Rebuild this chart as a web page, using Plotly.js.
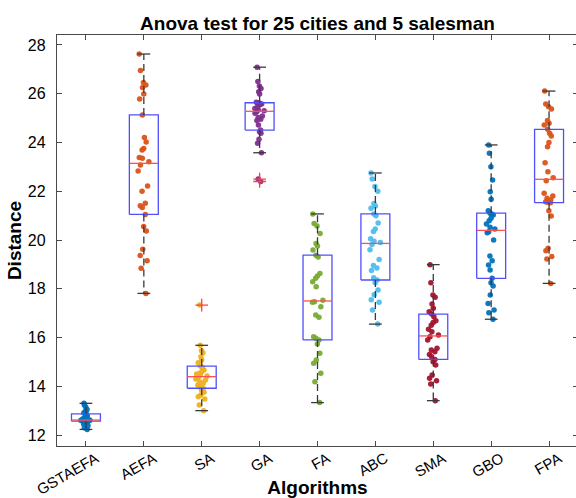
<!DOCTYPE html>
<html>
<head>
<meta charset="utf-8">
<script src="https://cdn.plot.ly/plotly-3.0.1.min.js"></script>
<style>
  html, body { margin: 0; padding: 0; overflow: hidden; background: #fff; }
  #chart { width: 580px; height: 498px; }
</style>
</head>
<body>
<div id="chart"></div>
<script>
// Best distance found in each of 30 runs, per algorithm
const categories = ['GSTAEFA', 'AEFA', 'SA', 'GA', 'FA', 'ABC', 'SMA', 'GBO', 'FPA'];

const gstaefa = [12.23, 12.3, 12.38, 12.45, 12.5, 12.53, 12.55, 12.57, 12.58, 12.59, 12.6, 12.6, 12.6, 12.61, 12.61,
                 12.62, 12.64, 12.67, 12.7, 12.74, 12.78, 12.83, 12.87, 12.9, 12.93, 12.98, 13.05, 13.15, 13.22, 13.3];
const aefa = [27.63, 26.95, 26.46, 26.36, 26.26, 25.99, 25.78, 25.13, 24.21, 24.02, 23.75, 23.69, 23.38, 23.35, 23.21,
              23.08, 22.83, 22.22, 22.0, 21.51, 21.41, 21.33, 21.05, 20.55, 20.37, 19.62, 19.36, 19.15, 18.84, 17.81];
const sa = [17.33, 15.68, 15.46, 15.38, 15.21, 15.08, 14.97, 14.83, 14.78, 14.67, 14.6, 14.53, 14.5, 14.46, 14.42,
            14.37, 14.3, 14.26, 14.19, 14.12, 14.05, 13.98, 13.92, 13.85, 13.76, 13.64, 13.57, 13.48, 13.23, 13.0];
const ga = [27.09, 26.5, 26.32, 26.22, 26.08, 25.99, 25.65, 25.6, 25.58, 25.63, 25.54, 25.47, 25.4, 25.33, 25.3,
            25.26, 25.2, 25.09, 25.03, 24.95, 24.9, 24.72, 24.51, 24.44, 24.38, 24.13, 23.97, 23.58, 22.5, 22.4];
const fa = [21.07, 20.68, 20.57, 20.27, 19.86, 19.75, 19.59, 19.38, 19.3, 18.63, 18.52, 18.43, 18.29, 18.08, 17.53,
            17.45, 17.47, 17.26, 16.92, 16.83, 16.03, 15.97, 15.9, 15.73, 15.35, 15.08, 14.94, 14.53, 14.19, 13.33];
const abc = [22.75, 22.5, 22.2, 22.0, 21.5, 21.4, 21.3, 21.07, 21.0, 20.7, 20.45, 20.35, 20.05, 19.95, 19.9,
             19.82, 19.6, 19.2, 18.95, 18.85, 18.75, 18.45, 18.36, 18.25, 17.95, 17.75, 17.55, 17.45, 17.13, 16.55];
const sma = [18.99, 18.25, 17.74, 17.65, 17.37, 17.2, 17.06, 16.96, 16.85, 16.69, 16.62, 16.5, 16.34, 16.24, 16.1,
             16.03, 15.9, 15.56, 15.49, 15.42, 15.3, 15.21, 15.1, 15.01, 14.87, 14.46, 14.33, 14.23, 14.09, 13.41];
const gbo = [23.9, 23.56, 23.01, 22.46, 21.98, 21.67, 21.2, 21.1, 21.07, 21.03, 20.89, 20.79, 20.66, 20.52, 20.45,
             20.34, 20.3, 20.0, 19.34, 19.15, 18.97, 18.77, 18.43, 18.25, 18.11, 17.74, 17.4, 17.13, 17.02, 16.75];
const fpa = [26.11, 25.58, 25.47, 25.37, 24.9, 24.79, 24.72, 24.54, 24.38, 24.27, 24.0, 23.83, 23.17, 22.8, 22.55,
             22.43, 21.92, 21.81, 21.71, 21.64, 21.57, 21.55, 21.53, 21.2, 20.98, 19.66, 19.56, 19.32, 19.22, 18.22];

const yTicks = [12, 14, 16, 18, 20, 22, 24, 26, 28];

const runs = [gstaefa, aefa, sa, ga, fa, abc, sma, gbo, fpa];
const dotColors = ['#0072BD', '#D95319', '#EDB120', '#7E2F8E', '#77AC30', '#4DBEEE', '#A2142F', '#0072BD', '#D95319'];

const FONT = 'Liberation Sans, Arial, Helvetica, sans-serif';
const BOX_HALF = 0.25;
const CAP_HALF = 0.11;

// Percentile with the same interpolation rule as MATLAB's prctile
function prctile(sorted, p) {
  const n = sorted.length;
  const pos = n * p / 100 + 0.5;
  if (pos <= 1) return sorted[0];
  if (pos >= n) return sorted[n - 1];
  const lo = Math.floor(pos);
  const f = pos - lo;
  return sorted[lo - 1] + f * (sorted[lo] - sorted[lo - 1]);
}

function boxStats(values) {
  const s = values.slice().sort((a, b) => a - b);
  const q1 = prctile(s, 25), med = prctile(s, 50), q3 = prctile(s, 75);
  const iqr = q3 - q1;
  const hiLim = q3 + 1.5 * iqr, loLim = q1 - 1.5 * iqr;
  const inside = s.filter(v => v >= loLim && v <= hiLim);
  return {
    q1, med, q3,
    lo: inside[0], hi: inside[inside.length - 1],
    out: s.filter(v => v < loLim || v > hiLim)
  };
}

const frames = [], medians = [], whiskers = [], caps = [], outliers = [], dots = [];

runs.forEach((vals, i) => {
  const c = i + 1;
  const st = boxStats(vals);
  frames.push({
    type: 'scatter', mode: 'lines', hoverinfo: 'skip', showlegend: false,
    x: [c - BOX_HALF, c + BOX_HALF, c + BOX_HALF, c - BOX_HALF, c - BOX_HALF],
    y: [st.q1, st.q1, st.q3, st.q3, st.q1],
    line: { color: 'rgb(80,80,250)', width: 1.3 }
  });
  medians.push({
    type: 'scatter', mode: 'lines', hoverinfo: 'skip', showlegend: false,
    x: [c - BOX_HALF, c + BOX_HALF], y: [st.med, st.med],
    line: { color: 'rgb(255,80,80)', width: 1.3 }
  });
  whiskers.push({
    type: 'scatter', mode: 'lines', hoverinfo: 'skip', showlegend: false,
    x: [c, c, null, c, c], y: [st.q3, st.hi, null, st.q1, st.lo],
    line: { color: '#3a3a3a', width: 1.3, dash: '7px,4px' }
  });
  caps.push({
    type: 'scatter', mode: 'lines', hoverinfo: 'skip', showlegend: false,
    x: [c - CAP_HALF, c + CAP_HALF, null, c - CAP_HALF, c + CAP_HALF],
    y: [st.hi, st.hi, null, st.lo, st.lo],
    line: { color: '#3a3a3a', width: 1.3 }
  });
  if (st.out.length) {
    outliers.push({
      type: 'scatter', mode: 'markers', hoverinfo: 'skip', showlegend: false,
      x: st.out.map(() => c), y: st.out,
      marker: { symbol: 'cross-thin', size: 9, line: { color: 'rgb(255,60,60)', width: 1.3 } }
    });
  }
  // jittered run values drawn through a box trace with its own outline hidden
  dots.push({
    type: 'box', x0: c, y: vals, width: 2 * BOX_HALF,
    boxpoints: 'all', jitter: 0.42, pointpos: 0,
    line: { width: 0, color: 'rgba(0,0,0,0)' }, fillcolor: 'rgba(0,0,0,0)',
    marker: { color: dotColors[i], size: 5.5, opacity: 0.95 },
    hoverinfo: 'skip', showlegend: false
  });
});

const data = [].concat(frames, whiskers, caps, medians, outliers, dots);

const axisCommon = {
  showline: true, linecolor: '#4a4a4a', linewidth: 1.2,
  mirror: 'ticks', ticks: 'inside', ticklen: 5, tickwidth: 1, tickcolor: '#4a4a4a',
  showgrid: false, zeroline: false
};

const layout = {
  width: 580, height: 498,
  margin: { l: 57, r: 2, t: 35, b: 52 },
  paper_bgcolor: '#fff', plot_bgcolor: '#fff',
  showlegend: false,
  boxmode: 'overlay',
  title: {
    text: 'Anova test for 25 cities and 5 salesman',
    font: { family: FONT, size: 19, color: '#000', weight: 'bold' },
    x: 0.5, xref: 'paper', xanchor: 'center',
    y: 1 - 23 / 498, yref: 'container', yanchor: 'middle'
  },
  xaxis: Object.assign({}, axisCommon, {
    type: 'linear', range: [0.5, 9.5],
    tickmode: 'array', tickvals: categories.map((_, i) => i + 1), ticktext: categories,
    tickangle: -30, ticklabelshift: 10, ticklabelstandoff: -3,
    tickfont: { family: FONT, size: 15, color: '#000' },
    title: { text: 'Algorithms', font: { family: FONT, size: 19, color: '#000', weight: 'bold' }, standoff: 0 }
  }),
  yaxis: Object.assign({}, axisCommon, {
    type: 'linear', range: [11.55, 28.41],
    tickmode: 'array', tickvals: yTicks,
    ticklabelstandoff: 7,
    tickfont: { family: FONT, size: 16, color: '#000' },
    title: { text: 'Distance', font: { family: FONT, size: 19, color: '#000', weight: 'bold' }, standoff: 1 }
  })
};

Plotly.newPlot('chart', data, layout, { staticPlot: true, displayModeBar: false });
</script>
</body>
</html>
